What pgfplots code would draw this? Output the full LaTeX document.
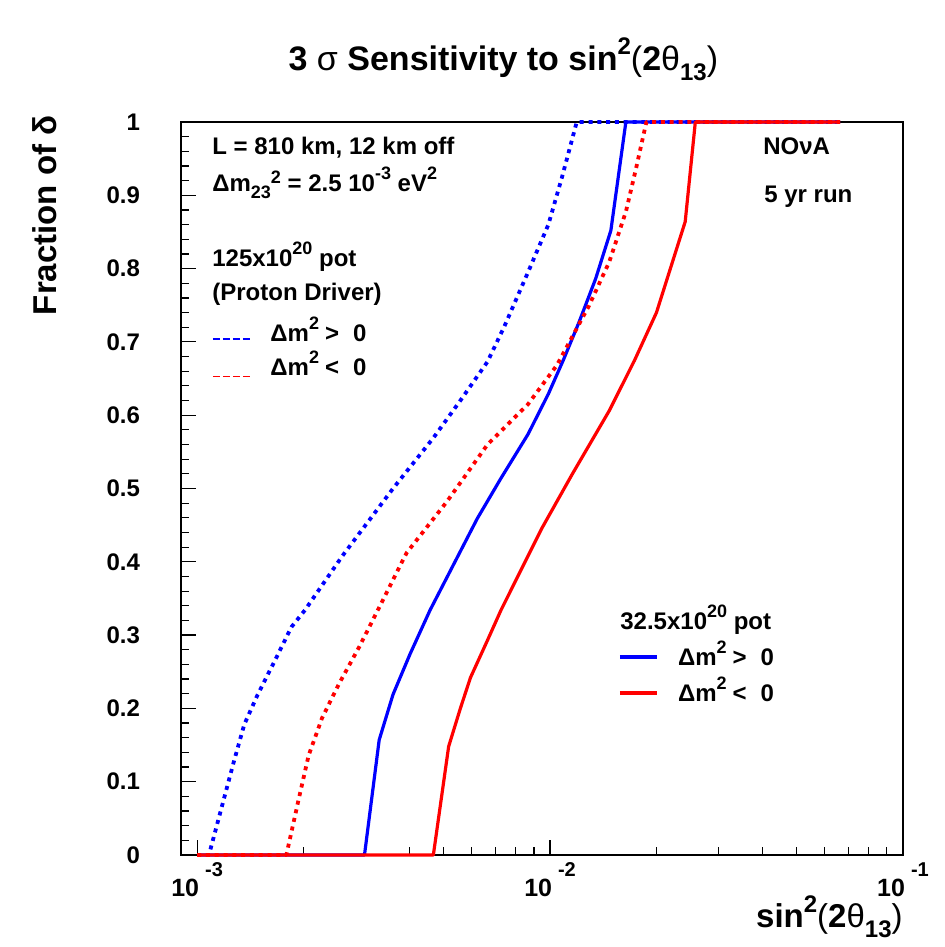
\documentclass[border=0pt]{standalone}
\usepackage{pgfplots}
\pgfplotsset{compat=1.18}
\usepackage{fontspec}
\setmainfont{Liberation Sans}
\usetikzlibrary{calc}
\definecolor{rblue}{RGB}{0,0,255}
\definecolor{rred}{RGB}{255,0,0}
\newcommand\sups[2][6pt]{\raisebox{#1}{\fontsize{9}{10}\selectfont #2}}
\newcommand\subs[2][-3.5pt]{\raisebox{#1}{\fontsize{9}{10}\selectfont #2}}
\newcommand\xlab[1]{\bfseries\fontsize{12.5}{14}\selectfont 10\hspace{3pt}\raisebox{10pt}{\fontsize{10}{12}\selectfont #1}}
\begin{document}
\begin{tikzpicture}
\begin{axis}[
  scale only axis, width=361pt, height=366.5pt,
  xmode=log, xmin=9e-4, xmax=0.1, ymin=0, ymax=1,
  clip=false,
  axis line style={line width=0.6pt},
  tick align=inside, tick pos=left,
  major tick length=7.5pt, minor tick length=4pt,
  every tick/.style={black, line width=0.6pt},
  xtick={0.001,0.01,0.1},
  xticklabels={\xlab{-3},\xlab{-2},\xlab{-1}},
  xticklabel style={anchor=base, inner sep=0pt, yshift=-20.5pt},
  ytick={0,0.1,0.2,0.3,0.4,0.5,0.6,0.7,0.8,0.9,1},
  minor y tick num=4,
  yticklabel style={anchor=east, xshift=-17pt, font=\bfseries\fontsize{12}{14}\selectfont,
    /pgf/number format/assume math mode=true, /pgf/number format/fixed},
  every axis plot/.append style={line join=round},
]
% 125e20 pot, dm2>0 (dashed blue)
\addplot[rblue, line width=1.9pt, dash pattern=on 2pt off 2.4pt] coordinates {
(0.001,0)(0.00108,0)(0.00119,0.076)(0.00127,0.127)(0.00136,0.178)(0.001485,0.219)
(0.00166,0.265)(0.00185,0.311)(0.00202,0.334)(0.00258,0.408)(0.00359,0.5)(0.00467,0.569)
(0.00557,0.62)(0.00665,0.673)(0.00742,0.721)(0.00866,0.795)(0.00989,0.86)(0.0108,0.924)
(0.0119,1)(0.0664,1)};
% 32.5e20 pot, dm2>0 (solid blue)
\addplot[rblue, line width=1.6pt] coordinates {
(0.001,0)(0.00298,0)(0.00328,0.157)(0.00359,0.219)(0.00401,0.274)(0.00457,0.334)
(0.00622,0.459)(0.00726,0.514)(0.00866,0.574)(0.00989,0.629)(0.0109,0.675)(0.01206,0.726)
(0.01346,0.786)(0.01487,0.852)(0.0164,1)(0.0664,1)};
% 125e20 pot, dm2<0 (dashed red)
\addplot[rred, line width=1.9pt, dash pattern=on 2pt off 2.4pt] coordinates {
(0.001,0)(0.00179,0)(0.00194,0.076)(0.00207,0.136)(0.00226,0.187)(0.00252,0.233)
(0.00288,0.284)(0.00325,0.334)(0.00392,0.412)(0.0051,0.482)(0.00665,0.56)(0.00866,0.615)
(0.01045,0.668)(0.01288,0.749)(0.01471,0.809)(0.01641,0.878)(0.01755,0.938)(0.01875,1)(0.0664,1)};
% 32.5e20 pot, dm2<0 (solid red)
\addplot[rred, line width=1.6pt] coordinates {
(0.001,0)(0.00467,0)(0.00516,0.148)(0.00557,0.2)(0.00595,0.242)(0.00665,0.293)
(0.00726,0.334)(0.00946,0.445)(0.01154,0.519)(0.01471,0.606)(0.01736,0.675)(0.02002,0.74)
(0.02415,0.864)(0.0258,1)(0.0664,1)};

\begin{scope}[every node/.style={inner sep=0pt, font=\bfseries\fontsize{12}{14}\selectfont}]
\node[anchor=base west] at (rel axis cs:0.0429,0.955) {L = 810 km, 12 km off};
\node[anchor=base west] at (rel axis cs:0.0429,0.9045) {Δm\subs{23}\sups[4pt]{2} = 2.5 10\sups{-3} eV\sups{2}};
\node[anchor=base west] at (rel axis cs:0.0429,0.8026) {125x10\sups{20} pot};
\node[anchor=base west] at (rel axis cs:0.0429,0.7558) {(Proton Driver)};
\node[anchor=base west] at (rel axis cs:0.1233,0.7003) {Δm\sups{2}\hspace{3pt}>\hspace{7pt}0};
\node[anchor=base west] at (rel axis cs:0.1233,0.6535) {Δm\sups{2}\hspace{3pt}<\hspace{7pt}0};
\node[anchor=base west] at (rel axis cs:0.806,0.955) {NOνA};
\node[anchor=base west] at (rel axis cs:0.8075,0.8895) {5 yr run};
\node[anchor=base west] at (rel axis cs:0.608,0.307) {32.5x10\sups{20} pot};
\node[anchor=base west] at (rel axis cs:0.688,0.258) {Δm\sups{2}\hspace{3pt}>\hspace{7pt}0};
\node[anchor=base west] at (rel axis cs:0.688,0.209) {Δm\sups{2}\hspace{3pt}<\hspace{7pt}0};
\end{scope}
\draw[rblue, line width=0.7pt, dash pattern=on 3.5pt off 1.5pt] (rel axis cs:0.0443,0.704) -- (rel axis cs:0.0983,0.704);
\draw[rred, line width=0.7pt, dash pattern=on 3.5pt off 1.5pt] (rel axis cs:0.0443,0.6526) -- (rel axis cs:0.0983,0.6526);
\draw[rblue, line width=2pt] (rel axis cs:0.608,0.270) -- (rel axis cs:0.659,0.270);
\draw[rred, line width=2pt] (rel axis cs:0.608,0.2214) -- (rel axis cs:0.659,0.2214);

% title
\node[anchor=base, inner sep=0pt, font=\bfseries\fontsize{17}{20}\selectfont]
  at ([yshift=25.5pt]rel axis cs:0.4465,1) {3 {\mdseries σ} Sensitivity to sin\sups[8pt]{\fontsize{12}{14}\selectfont 2}{\mdseries(}2{\mdseries θ}\subs[-5pt]{\fontsize{12}{14}\selectfont 13}{\mdseries)}};
% x label
\node[anchor=base east, inner sep=0pt, font=\bfseries\fontsize{16.5}{20}\selectfont]
  at ([yshift=-36pt]rel axis cs:1,0) {sin\sups[7.5pt]{\fontsize{12}{14}\selectfont 2}{\mdseries(}2{\mdseries θ}\subs[-5pt]{\fontsize{12}{14}\selectfont 13}{\mdseries)}};
% y label
\node[anchor=base east, rotate=90, inner sep=0pt, font=\bfseries\fontsize{16.5}{19}\selectfont]
  at ([xshift=-62pt,yshift=3.5pt]rel axis cs:0,1) {Fraction of δ};
\end{axis}
\pgfresetboundingbox
\path[use as bounding box] ($(current axis.south west)+(-90.5pt,-46pt)$) rectangle ($(current axis.north east)+(20.5pt,61pt)$);
\end{tikzpicture}
\end{document}
